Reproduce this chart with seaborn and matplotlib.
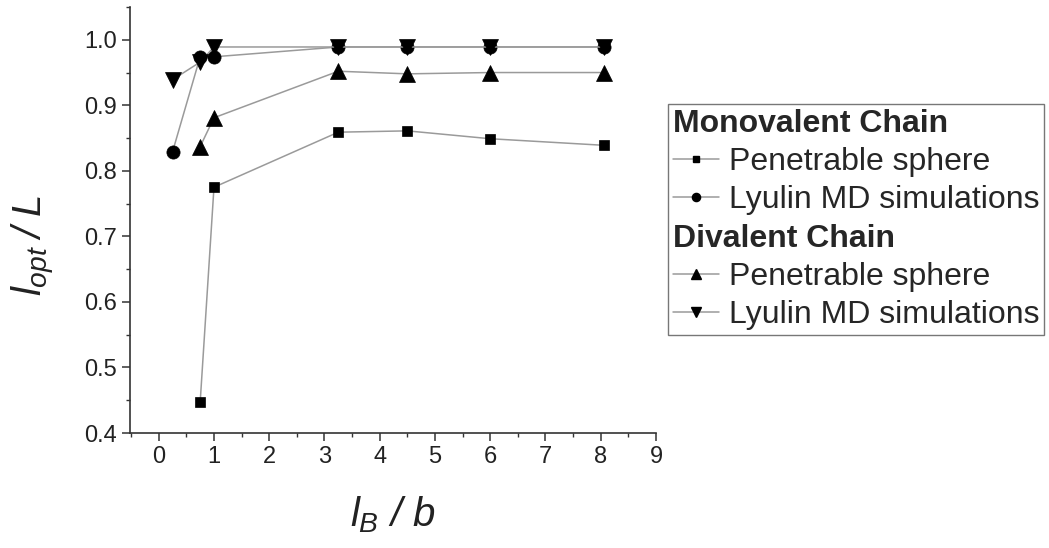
import matplotlib
matplotlib.use("Agg")
import matplotlib.pyplot as plt
from matplotlib.lines import Line2D
from matplotlib.ticker import MultipleLocator, FormatStrFormatter
import seaborn as sns
import pandas as pd

# l_B / b values and optimal length fractions for each model
x_mono_ps = [0.75, 1.0, 3.25, 4.5, 6.0, 8.05]
y_mono_ps = [0.447, 0.775, 0.859, 0.861, 0.849, 0.839]

x_mono_md = [0.25, 0.75, 1.0, 3.25, 4.5, 6.0, 8.05]
y_mono_md = [0.829, 0.974, 0.974, 0.989, 0.989, 0.989, 0.989]

x_di_ps = [0.75, 1.0, 3.25, 4.5, 6.0, 8.05]
y_di_ps = [0.837, 0.881, 0.952, 0.948, 0.950, 0.950]

x_di_md = [0.25, 0.75, 1.0, 3.25, 4.5, 6.0, 8.05]
y_di_md = [0.939, 0.966, 0.989, 0.989, 0.989, 0.989, 0.989]

series_labels = ["Penetrable sphere", "Lyulin MD simulations",
                 "Penetrable sphere", "Lyulin MD simulations"]
group_labels = ["Monovalent Chain", "Divalent Chain"]

sns.set_style("ticks")
plt.rcParams["font.family"] = ["Liberation Sans", "DejaVu Sans"]
plt.rcParams["mathtext.fontset"] = "custom"
plt.rcParams["mathtext.it"] = "Liberation Sans:italic"
plt.rcParams["mathtext.rm"] = "Liberation Sans:italic"
plt.rcParams["mathtext.default"] = "it"

fig = plt.figure(figsize=(10.49, 5.48), dpi=100)
ax = fig.add_axes([130 / 1049, 1 - 433 / 548, 526 / 1049, 426 / 548])

line_color = "#9a9a9a"
styles = [("s", 7.5), ("o", 9.5), ("^", 11), ("v", 11)]
data = [(x_mono_ps, y_mono_ps), (x_mono_md, y_mono_md),
        (x_di_ps, y_di_ps), (x_di_md, y_di_md)]

for (xs, ys), (mk, ms) in zip(data, styles):
    df = pd.DataFrame({"x": xs, "y": ys})
    sns.lineplot(data=df, x="x", y="y", ax=ax, color=line_color, lw=1.1,
                 marker=mk, markersize=ms, markerfacecolor="black",
                 markeredgecolor="black", markeredgewidth=0.5, legend=False)

ax.set_xlim(-0.52, 9)
ax.set_ylim(0.4, 1.05)
ax.xaxis.set_major_locator(MultipleLocator(1))
ax.xaxis.set_minor_locator(MultipleLocator(0.5))
ax.yaxis.set_major_locator(MultipleLocator(0.1))
ax.yaxis.set_minor_locator(MultipleLocator(0.05))
ax.yaxis.set_major_formatter(FormatStrFormatter("%.1f"))

sns.despine(ax=ax)
for side in ("left", "bottom"):
    ax.spines[side].set_linewidth(1.2)
    ax.spines[side].set_color("#333333")
ax.tick_params(which="major", direction="out", length=5.5, width=1.1,
               labelsize=17, colors="#333333", labelcolor="#222222", pad=4)
ax.tick_params(which="minor", direction="out", length=3, width=1.0,
               colors="#333333")

ax.set_xlabel(r"$l_B\ /\ b$", fontsize=29, labelpad=19, color="#222222")
ax.set_ylabel(r"$l_{opt}\;/\;L$", fontsize=29, color="#222222")
ax.yaxis.set_label_coords(-0.138, 0.44)

# legend with bold group headings
blank = Line2D([], [], linestyle="none")
handles = [blank]
labels = [group_labels[0]]
for i, (mk, ms) in enumerate(styles):
    if i == 2:
        handles.append(blank)
        labels.append(group_labels[1])
    handles.append(Line2D([], [], color=line_color, lw=1.1, marker=mk,
                          markersize=ms * 0.62, markerfacecolor="black",
                          markeredgecolor="black"))
    labels.append(series_labels[i])

leg = fig.legend(handles, labels, loc="upper left",
                 bbox_to_anchor=(668 / 1049, 1 - 104 / 548),
                 fontsize=23, frameon=True, fancybox=False,
                 edgecolor="#777777", framealpha=1, borderpad=0.15,
                 handlelength=1.45, handletextpad=0.3, labelspacing=0.26,
                 borderaxespad=0)
leg.get_frame().set_linewidth(1.0)

header_rows = [0, 3]
rows = leg._legend_handle_box.get_children()[0].get_children()
for idx in header_rows:
    row = rows[idx]
    row.sep = 0
    row.get_children()[0].width = 0
    leg.get_texts()[idx].set_fontweight("bold")

fig.savefig("out.png", dpi=100)
